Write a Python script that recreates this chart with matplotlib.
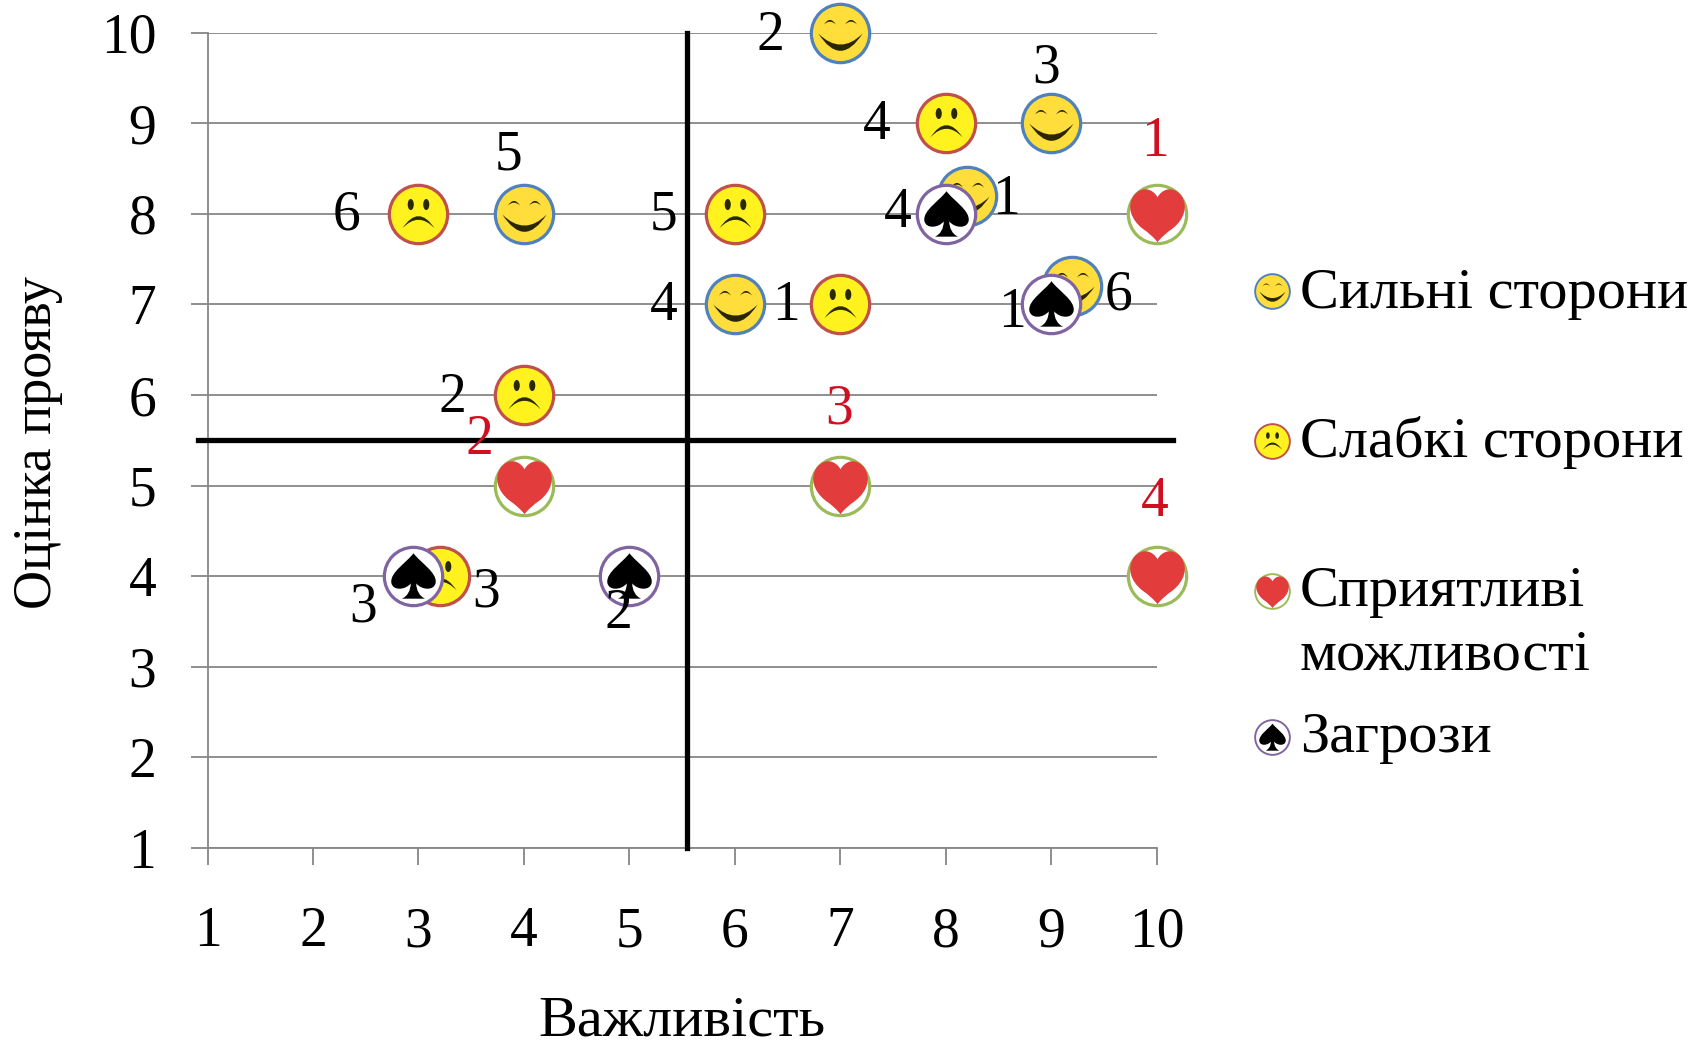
import numpy as np
import matplotlib
matplotlib.use('Agg')
import matplotlib.pyplot as plt
from matplotlib.path import Path
from matplotlib.transforms import offset_copy

plt.rcParams['font.family'] = ['Liberation Serif', 'DejaVu Serif']

# (importance, rating) per SWOT group, with the item number next to each point
strong_x = [7, 9, 8.2, 4, 6, 9.2]
strong_y = [10, 9, 8.2, 8, 7, 7.2]
strong_nums = ['2', '3', '1', '5', '4', '6']

weak_x = [8, 3, 6, 7, 4, 3.2]
weak_y = [9, 8, 8, 7, 6, 4]
weak_nums = ['4', '6', '5', '1', '2', '3']

opp_x = [10, 4, 7, 10]
opp_y = [8, 5, 5, 4]
opp_nums = ['1', '2', '3', '4']

threat_x = [8, 9, 2.95, 5]
threat_y = [8, 7, 4, 4]
threat_nums = ['4', '1', '3', '2']

ticks = list(range(1, 11))
split_x = 5.55
split_y = 5.5

legend_labels = ['Сильні сторони', 'Слабкі сторони', 'Сприятливі\nможливості', 'Загрози']

# label offsets in pixels from the marker, x right / y up
strong_off = [(-70, -3), (-5, 55), (39, -4), (-15, 58), (-71, -2), (46, -9)]
weak_off = [(-69, -2), (-72, -2), (-71, -2), (-54, -2), (-71, -3), (46, -16)]
opp_off = [(-2, 72), (-44, 46), (-1, 76), (-2, 74)]
threat_off = [(-48, 1), (-39, -9), (-50, -31), (-11, -38)]


def crescent(x0, x1, y_end, y_outer, y_inner):
    verts = [(x0, y_end), (0, y_outer), (x1, y_end), (0, y_inner), (x0, y_end)]
    codes = [Path.MOVETO, Path.CURVE3, Path.CURVE3, Path.CURVE3, Path.CURVE3]
    return Path(verts, codes)


def eye(cx, cy, rx, ry):
    circle = Path.unit_circle()
    return Path(circle.vertices * [rx, ry] + [cx, cy], circle.codes)


def eye_arc(cx, cy):
    verts = [(cx - 0.22, cy - 0.1), (cx, cy + 0.24), (cx + 0.22, cy - 0.1),
             (cx, cy + 0.12), (cx - 0.22, cy - 0.1)]
    codes = [Path.MOVETO, Path.CURVE3, Path.CURVE3, Path.CURVE3, Path.CURVE3]
    return Path(verts, codes)


SMILE = Path.make_compound_path(crescent(-0.8, 0.8, 0.0, -1.25, -0.8),
                                eye_arc(-0.38, 0.42), eye_arc(0.38, 0.42))
FROWN = Path.make_compound_path(crescent(-0.58, 0.58, -0.5, 0.38, 0.12),
                                eye(-0.28, 0.36, 0.11, 0.2), eye(0.28, 0.36, 0.11, 0.2))
HEART = Path([(0, 0.62),
              (0.14, 0.9), (0.55, 1.08), (0.86, 0.68),
              (1.12, 0.3), (0.96, -0.18), (0.55, -0.5),
              (0.3, -0.68), (0.12, -0.84), (0, -1.0),
              (-0.12, -0.84), (-0.3, -0.68), (-0.55, -0.5),
              (-0.96, -0.18), (-1.12, 0.3), (-0.86, 0.68),
              (-0.55, 1.08), (-0.14, 0.9), (0, 0.62)],
             [Path.MOVETO] + [Path.CURVE4] * 18)
SPADE = Path([(0, 0.84),
              (-0.25, 0.5), (-0.85, 0.15), (-0.8, -0.22),
              (-0.76, -0.52), (-0.3, -0.5), (-0.1, -0.25),
              (-0.1, -0.5), (-0.22, -0.72), (-0.42, -0.8),
              (0.42, -0.8),
              (0.22, -0.72), (0.1, -0.5), (0.1, -0.25),
              (0.3, -0.5), (0.76, -0.52), (0.8, -0.22),
              (0.85, 0.15), (0.25, 0.5), (0, 0.84)],
             [Path.MOVETO] + [Path.CURVE4] * 9 + [Path.LINETO] + [Path.CURVE4] * 9)


def glyph_size(path, diameter):
    # custom markers get rescaled by their largest coordinate
    return diameter * np.max(np.abs(path.vertices))


def draw_points(ax, x, y, face, edge, glyph, glyph_color, diameter, trans=None, z=4):
    kw = {'transform': trans} if trans is not None else {}
    ax.plot(x, y, ls='none', marker='o', ms=diameter, mfc=face, mec=edge, mew=diameter * 0.055,
            clip_on=False, zorder=z, **kw)
    ax.plot(x, y, ls='none', marker=glyph, ms=glyph_size(glyph, diameter * 0.95), mfc=glyph_color,
            mec='none', clip_on=False, zorder=z, **kw)


def draw_nums(ax, x, y, nums, offsets, color):
    for px, py, num, off in zip(x, y, nums, offsets):
        tr = offset_copy(ax.transData, fig=ax.figure, x=off[0], y=off[1], units='dots')
        ax.text(px, py, num, transform=tr, ha='center', va='center', fontsize=40, color=color,
                zorder=6, clip_on=False)


fig = plt.figure(figsize=(17.08, 10.45), dpi=100)
ax = fig.add_axes([207.6 / 1708, (1045 - 848) / 1045, 949 / 1708, 815.3 / 1045])

ax.set_xlim(1, 10)
ax.set_ylim(1, 10)
ax.set_xticks(ticks)
ax.set_yticks(ticks)
ax.tick_params(axis='x', length=12, width=1.3, color='#868686', labelsize=40, pad=30)
ax.tick_params(axis='y', length=12, width=1.3, color='#868686', labelsize=40, pad=25)
ax.grid(axis='y', color='#868686', lw=1.3)
ax.set_axisbelow(True)
for side in ['top', 'right']:
    ax.spines[side].set_visible(False)
for side in ['left', 'bottom']:
    ax.spines[side].set_color('#868686')
    ax.spines[side].set_linewidth(1.3)

ax.plot([split_x, split_x], [1, 10], color='black', lw=3.8, clip_on=False, zorder=3)
ax.plot([0.91, 10.16], [split_y, split_y], color='black', lw=3.8, clip_on=False, zorder=3)

D = 42
draw_points(ax, strong_x, strong_y, '#FFDE3C', '#4F81BD', SMILE, '#2a2600', D, z=4)
draw_points(ax, weak_x, weak_y, '#FFF21E', '#C0504D', FROWN, '#2a2a00', D, z=4.1)
draw_points(ax, opp_x, opp_y, 'white', '#9BBB59', HEART, '#E23C3C', D, z=4.2)
draw_points(ax, threat_x, threat_y, 'white', '#8064A2', SPADE, 'black', D, z=4.3)

draw_nums(ax, strong_x, strong_y, strong_nums, strong_off, 'black')
draw_nums(ax, weak_x, weak_y, weak_nums, weak_off, 'black')
draw_nums(ax, opp_x, opp_y, opp_nums, opp_off, '#D01020')
draw_nums(ax, threat_x, threat_y, threat_nums, threat_off, 'black')

fig.text(682 / 1708, 1 - 1036 / 1045, 'Важливість', fontsize=42, ha='center', va='baseline')
fig.text(38 / 1708, 1 - 443 / 1045, 'Оцінка прояву', fontsize=39, rotation=90, ha='center', va='center')

# legend is placed by hand: the two line entry keeps its marker on the first line
legend_y = [291, 441, 591, 737]
legend_text_y = [268, 416, 566, 712]
legend_style = [('#FFDE3C', '#4F81BD', SMILE, '#2a2600'), ('#FFF21E', '#C0504D', FROWN, '#2a2a00'),
                ('white', '#9BBB59', HEART, '#E23C3C'), ('white', '#8064A2', SPADE, 'black')]
for label, ly, ty, style in zip(legend_labels, legend_y, legend_text_y, legend_style):
    draw_points(ax, [1272 / 1708], [1 - ly / 1045], style[0], style[1], style[2], style[3], 25,
                trans=fig.transFigure)
    fig.text(1300 / 1708, 1 - ty / 1045, label, fontsize=42, ha='left', va='top', linespacing=1.3)

fig.savefig('out.png', dpi=100)
